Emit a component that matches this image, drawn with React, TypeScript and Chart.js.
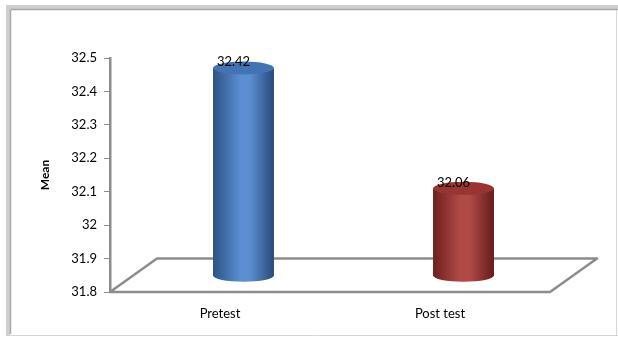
import React, { useEffect, useRef } from "react";
import { Chart, registerables } from "chart.js";

Chart.register(...registerables);

const categories = ["Pretest", "Post test"];
const meanValues = [32.42, 32.06];
const valueLabels = ["32.42", "32.06"];
const axisTitle = "Mean";
const yMin = 31.8;
const yMax = 32.5;
const yStep = 0.1;

const palettes = [
  { dark: "#2b5285", mid: "#5b8fd2", edge: "#284a78", top: "#4274b4" },
  { dark: "#6e1f1d", mid: "#b04a47", edge: "#661c1b", top: "#9a3432" },
];

const DEPTH_X = 47;

const framePlugin = {
  id: "frame",
  beforeDraw(chart: any) {
    const { ctx, width, height } = chart;
    ctx.save();
    ctx.fillStyle = "#ffffff";
    ctx.fillRect(0, 0, width, height);
    ctx.strokeStyle = "#d6d6d6";
    ctx.lineWidth = 1;
    ctx.beginPath();
    ctx.moveTo(9, 335.5);
    ctx.lineTo(width, 335.5);
    ctx.moveTo(616.5, 8);
    ctx.lineTo(616.5, 336);
    ctx.stroke();
    ctx.strokeStyle = "#cfcfcf";
    ctx.lineWidth = 4;
    ctx.beginPath();
    ctx.moveTo(6, 7);
    ctx.lineTo(width, 7);
    ctx.moveTo(8, 5);
    ctx.lineTo(8, 336);
    ctx.stroke();
    ctx.strokeStyle = "#a9a9a9";
    ctx.lineWidth = 1.5;
    ctx.beginPath();
    ctx.moveTo(10.5, 9.5);
    ctx.lineTo(width, 9.5);
    ctx.moveTo(10.5, 9.5);
    ctx.lineTo(10.5, 334);
    ctx.stroke();
    ctx.restore();
  },
  beforeDatasetsDraw(chart: any) {
    const { ctx, chartArea } = chart;
    const yScale = chart.scales.y;
    const dy = yScale.getPixelForValue(yMin) - yScale.getPixelForValue(yMin + yStep);
    const l = chartArea.left;
    const r = chartArea.right;
    const b = chartArea.bottom;
    ctx.save();
    ctx.strokeStyle = "#8c8c8c";
    ctx.lineWidth = 2.5;
    ctx.lineJoin = "round";
    ctx.beginPath();
    ctx.moveTo(l, b);
    ctx.lineTo(l + DEPTH_X, b - dy);
    ctx.lineTo(r + DEPTH_X, b - dy);
    ctx.lineTo(r, b);
    ctx.closePath();
    ctx.stroke();
    ctx.restore();
  },
};

const cylinderPlugin = {
  id: "cylinders",
  afterDatasetsDraw(chart: any) {
    const { ctx } = chart;
    const yScale = chart.scales.y;
    const dy = yScale.getPixelForValue(yMin) - yScale.getPixelForValue(yMin + yStep);
    const floorPx = yScale.getPixelForValue(yMin);
    const meta = chart.getDatasetMeta(0);
    meta.data.forEach((el: any, i: number) => {
      const p = palettes[i % palettes.length];
      const cx = el.x + DEPTH_X / 2;
      const w = el.width;
      const left = cx - w / 2;
      const right = cx + w / 2;
      const topY = el.y - dy / 2;
      const baseY = floorPx - dy / 2;
      const ry = 6.5;
      ctx.save();
      const g = ctx.createLinearGradient(left, 0, right, 0);
      g.addColorStop(0, p.dark);
      g.addColorStop(0.45, p.mid);
      g.addColorStop(0.6, p.mid);
      g.addColorStop(1, p.edge);
      ctx.fillStyle = g;
      ctx.beginPath();
      ctx.moveTo(left, topY);
      ctx.lineTo(left, baseY);
      ctx.ellipse(cx, baseY, w / 2, ry, 0, Math.PI, 0, true);
      ctx.lineTo(right, topY);
      ctx.closePath();
      ctx.fill();
      ctx.fillStyle = p.top;
      ctx.beginPath();
      ctx.ellipse(cx, topY, w / 2, ry, 0, 0, Math.PI * 2);
      ctx.fill();
      ctx.fillStyle = "#000000";
      ctx.font = "13px Lato";
      ctx.textAlign = "center";
      ctx.textBaseline = "middle";
      ctx.fillText(valueLabels[i], cx - 10, topY - 6);
      ctx.restore();
    });
  },
};

export default function App() {
  const ref = useRef<HTMLCanvasElement | null>(null);
  useEffect(() => {
    if (!ref.current) return;
    const chart = new Chart(ref.current, {
      type: "bar",
      data: {
        labels: categories,
        datasets: [
          {
            label: axisTitle,
            data: meanValues,
            backgroundColor: "rgba(0,0,0,0)",
            borderWidth: 0,
            barPercentage: 0.277,
            categoryPercentage: 1,
          },
        ],
      },
      options: {
        responsive: false,
        animation: false,
        layout: { padding: { top: 58, right: 68, bottom: 0, left: 0 } },
        plugins: { legend: { display: false }, tooltip: { enabled: false } },
        scales: {
          x: {
            grid: { display: false },
            border: { display: false },
            ticks: { color: "#000", font: { family: "Lato", size: 13 }, padding: 6 },
            afterFit: (s: any) => {
              s.height = 45;
            },
          },
          y: {
            min: yMin,
            max: yMax,
            ticks: {
              stepSize: yStep,
              color: "#000",
              font: { family: "Lato", size: 13 },
              padding: 7,
              callback: (v: any) => String(Math.round(Number(v) * 10) / 10),
            },
            grid: { drawOnChartArea: false, drawTicks: true, tickLength: 6, color: "#8c8c8c" },
            border: { display: true, color: "#8c8c8c", width: 2.5 },
            title: {
              display: true,
              text: axisTitle,
              color: "#000",
              font: { family: "Lato", size: 12, weight: "bold" },
              padding: { top: 38, bottom: 0 },
            },
            afterFit: (s: any) => {
              s.width = 110;
            },
          },
        },
      },
      plugins: [framePlugin, cylinderPlugin],
    });
    return () => chart.destroy();
  }, []);
  return (
    <div style={{ position: "fixed", left: 0, top: 0, width: 618, height: 337 }}>
      <canvas ref={ref} width={618} height={337} />
    </div>
  );
}
